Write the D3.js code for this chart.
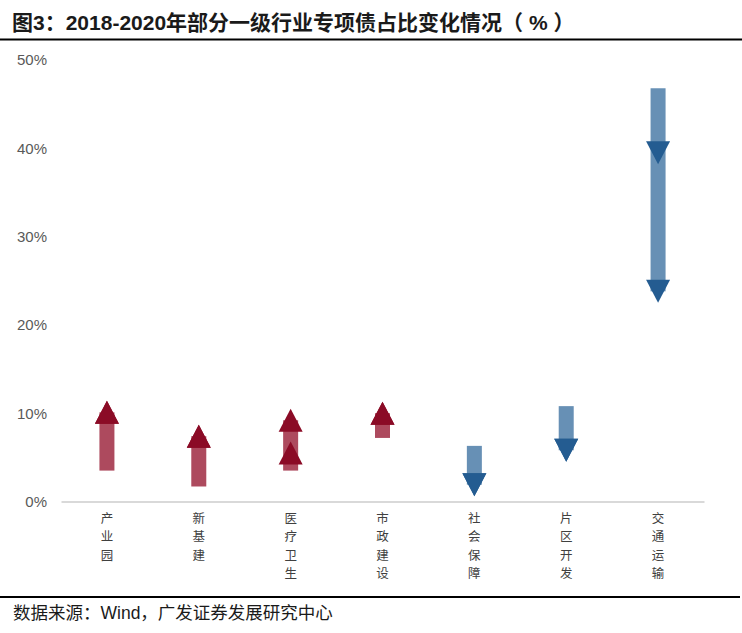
<!DOCTYPE html>
<html><head><meta charset="utf-8">
<script src="https://cdn.jsdelivr.net/npm/d3@7"></script>
<style>body{margin:0;background:#fff}</style>
</head><body>
<svg id="c" width="742" height="633"></svg>
<script>
const categories = ["产业园","新基建","医疗卫生","市政建设","社会保障","片区开发","交通运输"];
const v2018 = [3.5, 1.7, 3.5, 7.2, 6.3, 10.8, 46.8];
const v2019 = [10.1, 7.4, 5.5, 10.0, 1.9, 5.8, 39.5];
const v2020 = [10.1, 7.4, 9.2, 10.0, 1.9, 5.8, 23.8];
const yTicks = [0, 10, 20, 30, 40, 50];
const titleText = "图3：2018-2020年部分一级行业专项债占比变化情况（ % ）";
const sourceText = "数据来源：Wind，广发证券发展研究中心";

const svg = d3.select("#c");
const cjk = "'Liberation Sans', Arial, 'Noto Sans CJK SC', sans-serif";

const x = d3.scaleBand().domain(categories).range([61, 704]).padding(0);
const y = d3.scaleLinear().domain([0, 50]).range([501.5, 60]);

// title
svg.append("text").attr("x", 12).attr("y", 30)
  .attr("font-family", cjk).attr("font-weight", "bold").attr("font-size", 21)
  .attr("fill", "#1a1a1a").text(titleText);
svg.append("line").attr("x1", 0).attr("x2", 742).attr("y1", 39.5).attr("y2", 39.5)
  .attr("stroke", "#000").attr("stroke-width", 2);

// y axis labels
const yAxis = d3.axisLeft(y).tickValues(yTicks).tickFormat(d => d + "%").tickSize(0).tickPadding(0);
const gy = svg.append("g").attr("transform", "translate(47,0)").call(yAxis);
gy.select(".domain").remove();
gy.selectAll("text").attr("font-family", "'Liberation Sans', Arial, sans-serif")
  .attr("font-size", 15).attr("fill", "#595959");

// x axis line
const xAxis = d3.axisBottom(x).tickSize(0).tickFormat("");
const gx = svg.append("g").attr("transform", `translate(0,${y(0)})`).call(xAxis);
gx.select(".domain").attr("stroke", "#d9d9d9").attr("stroke-width", 2);

// category labels (vertical stacked, one text per character)
categories.forEach(c => {
  Array.from(c).forEach((ch, i) => {
    svg.append("text").attr("font-family", "'Noto Sans CJK SC', sans-serif")
      .attr("font-size", 12.5).attr("fill", "#404040").attr("text-anchor", "middle")
      .attr("x", x(c) + x.bandwidth() / 2).attr("y", 523 + i * 18.3).text(ch);
  });
});

// bars and arrows
const data = categories.map((c, i) => ({c, a: v2018[i], b: v2019[i], e: v2020[i]}));
const barW = 15, triW = 24, triH = 23;
const g = svg.append("g");
data.forEach(d => {
  const up = d.e > d.a;
  const cx = x(d.c) + x.bandwidth() / 2;
  const barCol = up ? "#ad4a5e" : "#6790b5";
  const triCol = up ? "#8b0b26" : "#245c91";
  g.append("rect").attr("x", cx - barW / 2).attr("width", barW)
    .attr("y", Math.min(y(d.a), y(d.e))).attr("height", Math.abs(y(d.a) - y(d.e)))
    .attr("fill", barCol);
  [d.b, d.e].forEach(v => {
    const cy = y(v);
    const pts = up
      ? [[cx, cy - triH / 2], [cx + triW / 2, cy + triH / 2], [cx - triW / 2, cy + triH / 2]]
      : [[cx - triW / 2, cy - triH / 2], [cx + triW / 2, cy - triH / 2], [cx, cy + triH / 2]];
    g.append("polygon").attr("points", pts.map(p => p.join(",")).join(" ")).attr("fill", triCol);
  });
});

// footer
svg.append("line").attr("x1", 0).attr("x2", 740).attr("y1", 597).attr("y2", 597)
  .attr("stroke", "#000").attr("stroke-width", 2);
svg.append("text").attr("x", 13).attr("y", 619)
  .attr("font-family", cjk).attr("font-size", 17.5).attr("fill", "#1a1a1a").text(sourceText);
</script>
</body></html>
